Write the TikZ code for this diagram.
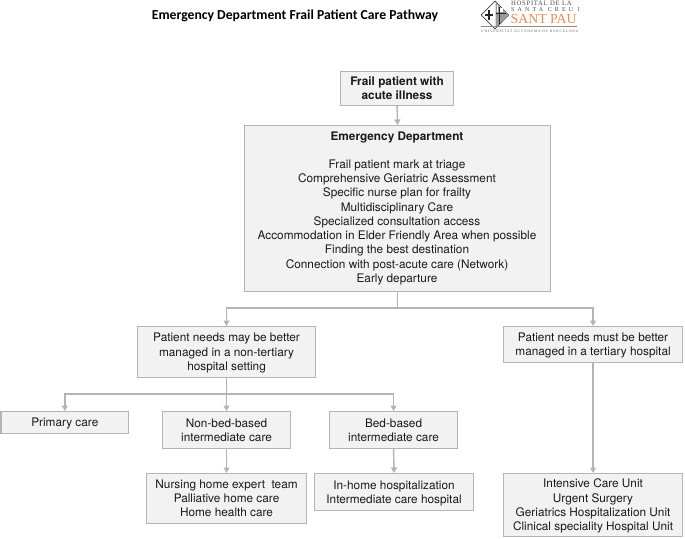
\documentclass[tikz,border=0pt]{standalone}
\usepackage{fontspec}
\setmainfont{TeX Gyre Heros}
\newfontfamily\titlefont{Carlito}
\newfontfamily\logofont{Liberation Serif}
\usetikzlibrary{arrows.meta}
\definecolor{boxline}{HTML}{B4B4B4}
\definecolor{boxfill}{HTML}{F2F2F2}
\definecolor{pauorange}{HTML}{EE8A52}
\tikzset{
  x=1pt,y=1pt,
  box/.style={draw=boxline,fill=boxfill,line width=1.1pt,align=center,inner sep=0pt,
     font=\fontsize{11.8}{14.1}\selectfont,text=black!90},
  conn/.style={draw=boxline,line width=1.4pt,-{Triangle[length=5.5pt,width=6pt]}},
  wire/.style={draw=boxline,line width=1.4pt},
  logotext/.style={inner sep=0pt,font=\logofont,anchor=west}
}
\newcommand{\bx}[6]{\node[box,minimum width=#4pt-#2pt,minimum height=#5pt-#3pt,anchor=north west] (#1) at (#2,-#3) {\raisebox{-1.2pt}[\height][\depth]{\begin{tabular}{@{}c@{}}#6\end{tabular}}};}
\begin{document}
\begin{tikzpicture}
\useasboundingbox (0,0) rectangle (685,-538);
\node[font=\titlefont\bfseries\fontsize{13.7}{17}\selectfont] (title) at (295,-16) {Emergency Department Frail Patient Care Pathway};

\bx{frail}{340}{71}{453}{105}{\textbf{Frail patient with}\\\textbf{acute illness}}
\bx{ed}{244}{125}{550}{291}{\rule{0pt}{1pt}}
\node[anchor=north,align=center,font=\fontsize{11.8}{14.25}\selectfont,text=black!90] (edtext) at (397,-128) {\textbf{Emergency Department}\\[14pt]Frail patient mark at triage\\Comprehensive Geriatric Assessment\\Specific nurse plan for frailty\\Multidisciplinary Care\\Specialized consultation access\\Accommodation in Elder Friendly Area when possible\\Finding the best destination\\Connection with post-acute care (Network)\\Early departure};
\bx{left}{137}{326}{315}{377}{Patient needs may be better\\managed in a non-tertiary\\hospital setting}
\bx{right}{503}{326}{682}{362}{Patient needs must be better\\managed in a tertiary hospital}
\bx{primary}{0.5}{411}{128}{433}{Primary care}
\bx{nonbed}{162}{411}{290}{448}{Non-bed-based\\intermediate care}
\bx{bed}{329}{411}{457}{448}{Bed-based\\intermediate care}
\bx{nursing}{146}{473}{306}{523}{Nursing home expert~ team\\Palliative home care\\Home health care}
\bx{inhome}{314}{473}{473}{510}{In-home hospitalization\\Intermediate care hospital}
\bx{icu}{503}{473}{682}{536}{Intensive Care Unit\\Urgent Surgery\\Geriatrics Hospitalization Unit\\Clinical speciality Hospital Unit}

\draw[conn] (frail.south) -- (ed.north);
\coordinate (j1) at (ed.south|-0,-308);
\draw[wire] (ed.south) -- (j1);
\draw[conn] (j1) -| (left.north);
\draw[conn] (j1) -| (right.north);
\coordinate (j2) at (left.south|-0,-394);
\draw[conn] (left.south) -- (nonbed.north);
\draw[conn] (j2) -| (primary.north);
\draw[conn] (j2) -| (bed.north);
\draw[conn] (nonbed.south) -- (nursing.north);
\draw[conn] (bed.south) -- (inhome.north);
\draw[conn] (right.south) -- (icu.north);

% logo
\begin{scope}
\draw[black!75,line width=.7pt] (481,-15) -- (495,-1) -- (508.5,-15) -- (495,-29) -- cycle;
\fill[black!40] (495.5,-2) -- (507.5,-15) -- (495.5,-28) -- cycle;
\fill[white] (496.5,-5) rectangle (498,-12);
\fill[white] (500,-8) rectangle (503,-12);
\draw[black!85,line width=1.1pt] (489,-10) -- (489,-20) (485,-15) -- (493,-15);
\draw[black!85,line width=.8pt] (499,-7) -- (499,-24) (495.5,-13) -- (505.5,-13);
\draw[black!45,line width=.5pt] (481,-26.5) -- (577,-26.5);
\end{scope}
\node[logotext,font=\logofont\fontsize{6.7}{7}\selectfont,text=black!70] (l1) at (511,-3.5) {\addfontfeature{LetterSpace=10}HOSPITAL DE LA};
\node[logotext,font=\logofont\fontsize{6}{7}\selectfont,text=black!70] (l2) at (511,-9.7) {\addfontfeature{LetterSpace=52}SANTA CREU I};
\node[logotext,font=\logofont\fontsize{13.8}{14}\selectfont,text=pauorange] (l3) at (510.5,-19.3) {SANT PAU};
\node[logotext,font=\logofont\fontsize{3.7}{4}\selectfont,text=black!60] (l4) at (481,-30.7) {\addfontfeature{LetterSpace=20}UNIVERSITAT AUTÒNOMA DE BARCELONA};
\end{tikzpicture}
\end{document}
